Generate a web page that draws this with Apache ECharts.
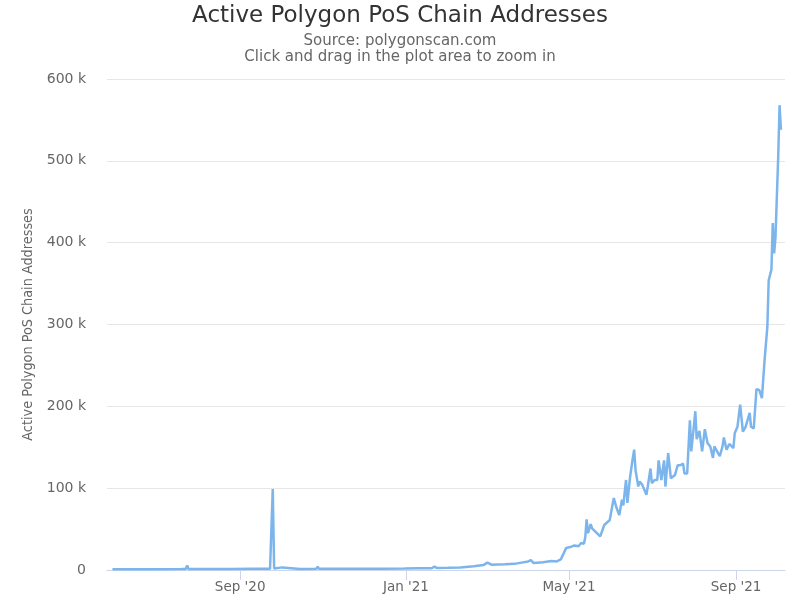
<!DOCTYPE html>
<html><head><meta charset="utf-8">
<script src="https://cdn.jsdelivr.net/npm/echarts@6/dist/echarts.min.js"></script>
<style>html,body{margin:0;padding:0;background:#fff}#c{width:800px;height:600px}</style>
</head><body><div id="c"></div>
<script>
const dates = [
'2020-05-30','2020-06-15','2020-07-01','2020-07-20','2020-07-23','2020-07-24','2020-07-25','2020-08-10','2020-08-25','2020-09-10',
'2020-09-23','2020-09-24','2020-09-25','2020-09-26','2020-09-27','2020-10-02','2020-10-03','2020-10-15','2020-10-27','2020-10-28',
'2020-10-29','2020-11-15','2020-12-01','2020-12-15','2020-12-31','2021-01-10','2021-01-20','2021-01-22','2021-01-24','2021-02-01',
'2021-02-10','2021-02-20','2021-02-27','2021-03-02','2021-03-05','2021-03-15','2021-03-22','2021-03-27','2021-04-01','2021-04-03',
'2021-04-05','2021-04-12','2021-04-18','2021-04-22','2021-04-25','2021-04-27','2021-04-29','2021-05-02','2021-05-05','2021-05-08',
'2021-05-10','2021-05-12','2021-05-13','2021-05-14','2021-05-15','2021-05-17','2021-05-18','2021-05-21','2021-05-24','2021-05-27',
'2021-05-29','2021-05-31','2021-06-03','2021-06-05','2021-06-07','2021-06-09','2021-06-10','2021-06-12','2021-06-13','2021-06-15',
'2021-06-17','2021-06-18','2021-06-19','2021-06-21','2021-06-22','2021-06-24','2021-06-27','2021-06-28','2021-06-30','2021-07-01',
'2021-07-03','2021-07-05','2021-07-06','2021-07-08','2021-07-10','2021-07-11','2021-07-12','2021-07-13','2021-07-15','2021-07-16',
'2021-07-18','2021-07-20','2021-07-22','2021-07-24','2021-07-25','2021-07-27','2021-07-29','2021-07-30','2021-08-01','2021-08-02',
'2021-08-03','2021-08-05','2021-08-06','2021-08-07','2021-08-09','2021-08-11','2021-08-13','2021-08-15','2021-08-16','2021-08-18',
'2021-08-20','2021-08-22','2021-08-23','2021-08-25','2021-08-27','2021-08-30','2021-08-31','2021-09-02','2021-09-04','2021-09-06',
'2021-09-08','2021-09-11','2021-09-12','2021-09-14','2021-09-16','2021-09-18','2021-09-20','2021-09-22','2021-09-24','2021-09-25',
'2021-09-27','2021-09-28','2021-09-29','2021-09-30','2021-10-02','2021-10-03','2021-10-04'
];
const values = [
800,900,1000,1100,1200,5500,1300,1200,1300,1400,
1500,2000,99000,1800,1500,3200,1400,1300,1400,4000,
1500,1400,1500,1600,1800,2000,2200,4200,2400,2600,
3200,4500,6000,9000,6500,7000,7500,9000,10500,12000,
8500,9500,11000,10500,13000,20000,27000,28000,30000,29000,
33000,32000,40000,62000,45000,56000,51000,46000,41000,55000,
58000,61000,88000,76000,67000,86000,79000,110000,82000,114000,
137000,147000,122000,102000,108000,104000,92000,102000,124000,106000,
110000,110000,134000,110000,134000,102000,122000,143000,112000,114000,
116000,128000,128000,130000,118000,118000,183000,145000,177000,194000,
160000,170000,168000,145000,172000,155000,151000,137000,151000,145000,
139000,151000,162000,147000,154000,149000,167000,175000,202000,169000,
175000,192000,175000,173000,221000,220000,210000,257000,297000,354000,
367000,424000,387000,407000,505000,568000,538000
];
const xTickDates = ['2020-09-01','2021-01-01','2021-05-01','2021-09-01'];
const xRange = ['2020-05-26','2021-10-07'];
const yTicks = [0,100000,200000,300000,400000,500000,600000];
const MONTHS = ['Jan','Feb','Mar','Apr','May','Jun','Jul','Aug','Sep','Oct','Nov','Dec'];

function ts(s){ const p=s.split('-').map(Number); return new Date(p[0],p[1]-1,p[2]).getTime(); }
const seriesData = dates.map((d,i)=>[ts(d), values[i]]);
const xTicks = xTickDates.map(ts);

const chart = echarts.init(document.getElementById('c'));
chart.setOption({
  animation:false,
  backgroundColor:'#fff',
  title:[{
    text:'Active Polygon PoS Chain Addresses',
    left:'center', top:0,
    textStyle:{fontFamily:'DejaVu Sans',fontSize:23,fontWeight:'normal',color:'#333'}
  },{
    text:'Source: polygonscan.com',
    left:'center', top:29,
    textStyle:{fontFamily:'DejaVu Sans',fontSize:15,fontWeight:'normal',color:'#666'}
  },{
    text:'Click and drag in the plot area to zoom in',
    left:'center', top:45,
    textStyle:{fontFamily:'DejaVu Sans',fontSize:15,fontWeight:'normal',color:'#666'}
  }],
  grid:{left:107,right:15,top:79,bottom:30,containLabel:false},
  xAxis:{
    type:'value', min:ts(xRange[0]), max:ts(xRange[1]), scale:true,
    axisLine:{show:true,lineStyle:{color:'#ccd6eb',width:1}},
    axisTick:{show:true,length:10,lineStyle:{color:'#ccd6eb'},customValues:xTicks},
    splitLine:{show:false},
    axisLabel:{
      customValues:xTicks, color:'#666', fontFamily:'DejaVu Sans', fontSize:13.5, margin:10,
      formatter:function(v){ const d=new Date(v); return MONTHS[d.getMonth()]+" '"+String(d.getFullYear()).slice(2); }
    }
  },
  yAxis:{
    type:'value', min:yTicks[0], max:yTicks[yTicks.length-1], interval:yTicks[1]-yTicks[0],
    name:'Active Polygon PoS Chain Addresses', nameLocation:'middle', nameGap:72,
    nameTextStyle:{fontFamily:'DejaVu Sans Condensed, DejaVu Sans',fontSize:14.3,color:'#666'},
    axisLine:{show:false}, axisTick:{show:false},
    splitLine:{lineStyle:{color:'#e6e6e6',width:1}},
    axisLabel:{color:'#666',fontFamily:'DejaVu Sans',fontSize:14,margin:21,
      formatter:function(v){ return v===0?'0':(v/1000)+' k'; }}
  },
  series:[{
    type:'line', data:seriesData, showSymbol:false, symbol:'none',
    lineStyle:{color:'#7cb5ec',width:2.5}, itemStyle:{color:'#7cb5ec'}
  }]
});
</script>
</body></html>
